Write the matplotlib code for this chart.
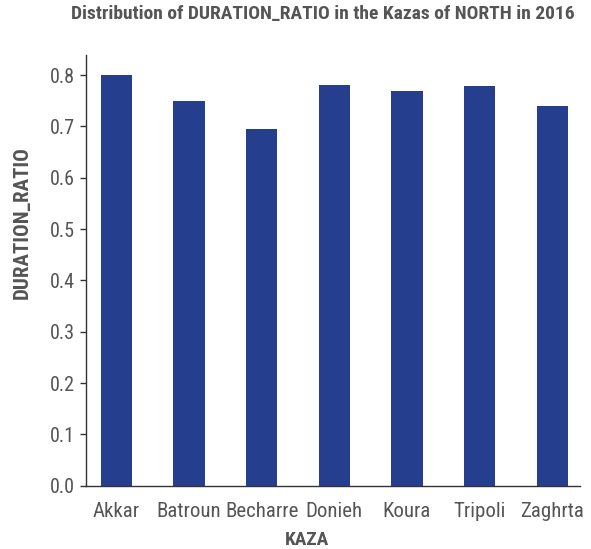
import matplotlib
matplotlib.use("Agg")
import matplotlib.pyplot as plt
from matplotlib import font_manager

# narrow font if one is installed, else Roboto
names = {f.name for f in font_manager.fontManager.ttflist}
fam = "Roboto"
for cand in ["Roboto Condensed", "Liberation Sans Narrow", "Arial Narrow"]:
    if cand in names:
        fam = cand
        break
plt.rcParams['font.family'] = [fam, 'DejaVu Sans']

kazas = ["Akkar", "Batroun", "Becharre", "Donieh", "Koura", "Tripoli", "Zaghrta"]
duration_ratio = [0.800, 0.749, 0.695, 0.781, 0.769, 0.779, 0.740]

bar_color = "#253f8e"
text_color = "#555555"

fig = plt.figure(figsize=(5.91, 5.49), dpi=100)
ax = fig.add_axes([85.7 / 591, 1 - 485.7 / 549, (580 - 85.7) / 591, (485.7 - 55) / 549])

ax.bar(range(len(kazas)), duration_ratio, width=0.43, color=bar_color)

ax.set_xlim(-0.42, 6.38)
ax.set_ylim(0, 0.839)
ax.set_yticks([0.0, 0.1, 0.2, 0.3, 0.4, 0.5, 0.6, 0.7, 0.8])
ax.set_yticklabels([f"{v:.1f}" for v in ax.get_yticks()])
ax.set_xticks(range(len(kazas)))
ax.set_xticklabels(kazas)

for s in ["top", "right"]:
    ax.spines[s].set_visible(False)
for s in ["left", "bottom"]:
    ax.spines[s].set_color("#333333")
    ax.spines[s].set_linewidth(1.0)

ax.tick_params(axis="x", length=0, pad=12, labelsize=15, labelcolor=text_color)
ax.tick_params(axis="y", length=4, width=1, color="#333333", pad=4,
               labelsize=14.5, labelcolor=text_color)

ax.set_xlabel("KAZA", fontsize=14, fontweight="bold", color=text_color)
ax.set_ylabel("DURATION_RATIO", fontsize=15, fontweight="bold", color=text_color)
ax.xaxis.set_label_coords(0.448, -0.105)
ax.yaxis.set_label_coords(-0.109, 0.612)

fig.text(323 / 591, 1 - 14 / 549, "Distribution of DURATION_RATIO in the Kazas of NORTH in 2016",
         ha="center", va="center", fontsize=14, fontweight="bold", color=text_color)

fig.savefig("out.png", dpi=100)
